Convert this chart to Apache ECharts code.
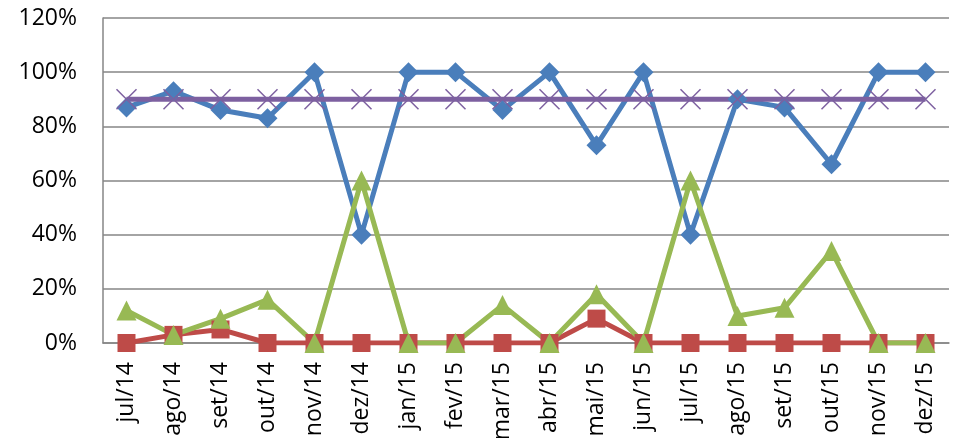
<!DOCTYPE html>
<html><head><meta charset="utf-8">
<script src="https://cdn.jsdelivr.net/npm/echarts@6/dist/echarts.min.js"></script>
<style>html,body{margin:0;padding:0;background:#fff}#c{width:955px;height:438px}</style>
</head><body><div id="c"></div>
<script>
const categories = ['jul/14','ago/14','set/14','out/14','nov/14','dez/14','jan/15','fev/15','mar/15','abr/15','mai/15','jun/15','jul/15','ago/15','set/15','out/15','nov/15','dez/15'];
const blueValues   = [87, 93, 86, 83, 100, 40, 100, 100, 86, 100, 73, 100, 40, 90, 87, 66, 100, 100];
const redValues    = [0, 3, 5, 0, 0, 0, 0, 0, 0, 0, 9, 0, 0, 0, 0, 0, 0, 0];
const greenValues  = [12, 3, 9, 16, 0, 60, 0, 0, 14, 0, 18, 0, 60, 10, 13, 34, 0, 0];
const purpleValues = [90, 90, 90, 90, 90, 90, 90, 90, 90, 90, 90, 90, 90, 90, 90, 90, 90, 90];
const yTicks = [0, 20, 40, 60, 80, 100, 120];

const font = 'Open Sans';
const chart = echarts.init(document.getElementById('c'));
chart.setOption({
  animation: false,
  grid: {left: 103, right: 6, top: 18, bottom: 95, containLabel: false, outerBoundsMode: 'none'},
  xAxis: {
    type: 'category', data: categories, boundaryGap: true,
    axisLine: {show: true, lineStyle: {color: '#868686', width: 1.5}},
    axisTick: {show: false},
    axisLabel: {rotate: 90, margin: 19, color: '#000', fontFamily: font, fontSize: 23, interval: 0}
  },
  yAxis: {
    type: 'value', min: yTicks[0], max: yTicks[yTicks.length-1], interval: 20,
    axisLine: {show: true, lineStyle: {color: '#868686', width: 1.5}},
    axisTick: {show: false},
    splitLine: {lineStyle: {color: '#868686', width: 1.5}},
    axisLabel: {margin: 26, color: '#000', fontFamily: font, fontSize: 23, formatter: v => v + '%'}
  },
  series: [
    {type: 'line', data: blueValues, symbol: 'diamond', symbolSize: 20,
     lineStyle: {color: '#4A7EBB', width: 5}, itemStyle: {color: '#4A7EBB'}},
    {type: 'line', data: redValues, symbol: 'rect', symbolSize: 18,
     lineStyle: {color: '#BE4B48', width: 5}, itemStyle: {color: '#BE4B48'}},
    {type: 'line', data: greenValues, symbol: 'triangle', symbolSize: 20,
     lineStyle: {color: '#98B954', width: 5}, itemStyle: {color: '#98B954'}},
    {type: 'line', data: purpleValues, symbol: 'path://M0,0L10,10M10,0L0,10', symbolSize: 20,
     lineStyle: {color: '#7D60A0', width: 5},
     itemStyle: {color: 'none', borderColor: '#7D60A0', borderWidth: 1.5}}
  ]
});
</script></body></html>
